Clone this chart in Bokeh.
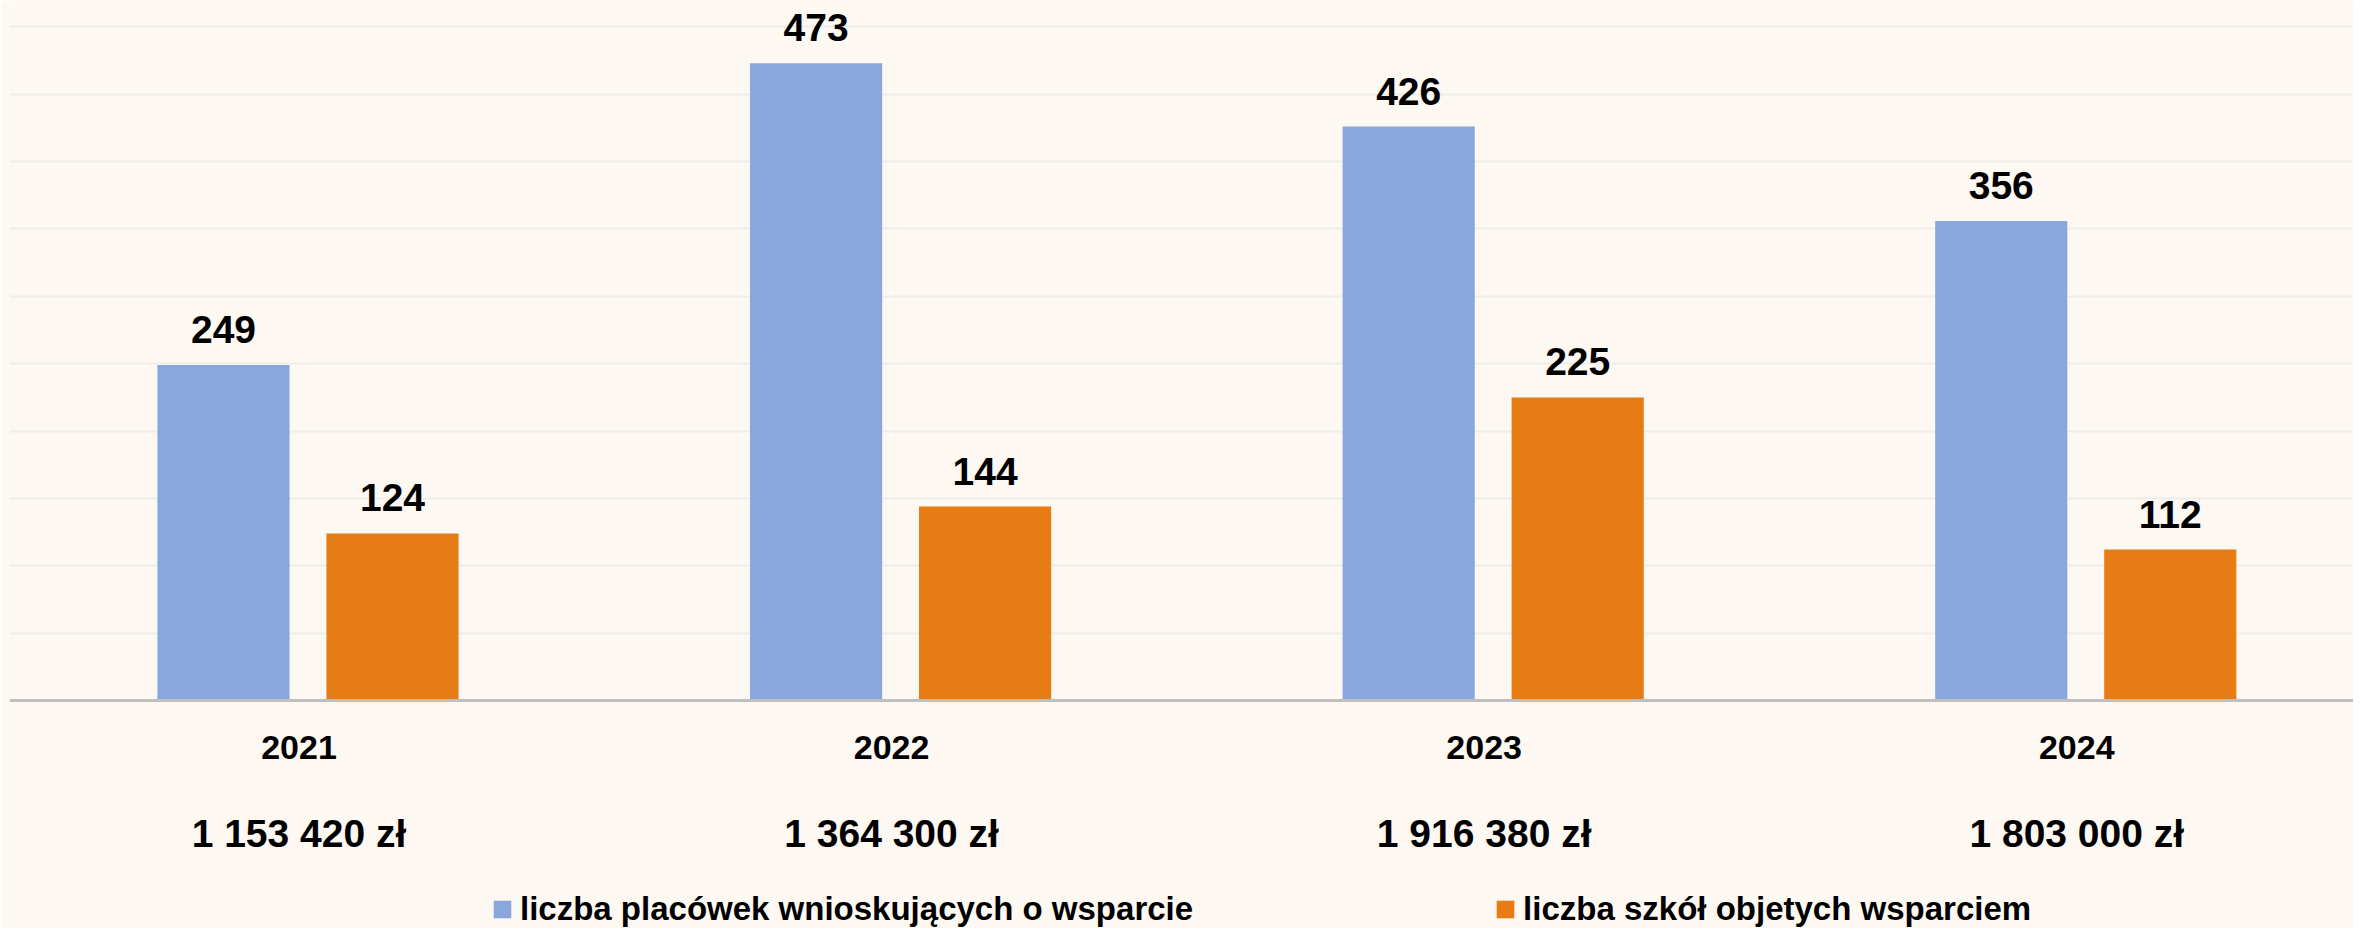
import numpy as np
from bokeh.plotting import figure
from bokeh.models import (Range1d, FixedTicker, ColumnDataSource, LabelSet,
                          Legend, LegendItem, Span, Grid)
from bokeh.core.properties import value
from bokeh.embed import file_html
from bokeh.resources import INLINE

# ---- data ----
years = ["2021", "2022", "2023", "2024"]
applicants = [249, 473, 426, 356]      # liczba placówek wnioskujących o wsparcie
schools = [124, 144, 225, 112]         # liczba szkół objetych wsparciem
amounts = ["1 153 420 zł", "1 364 300 zł", "1 916 380 zł", "1 803 000 zł"]
series_names = ["liczba placówek wnioskujących o wsparcie",
                "liczba szkół objetych wsparciem"]
grid_ticks = [0, 50, 100, 150, 200, 250, 300, 350, 400, 450, 500]

# ---- style ----
BG = "#FDF8F2"
BLUE = "#8AA7DD"
ORANGE = "#E67C13"
FONT = "Liberation Sans"
W, H = 2353, 928

idx = np.arange(len(years))
OFF = 0.1426
BAR_W = 0.223

p = figure(width=W, height=H,
           x_range=Range1d(-0.5037, 3.4518), y_range=Range1d(-169.24, 519.6),
           x_axis_type=None, y_axis_type=None,
           output_backend="svg", toolbar_location=None,
           min_border_left=9, min_border_right=0, min_border_top=0, min_border_bottom=0,
           background_fill_color=BG, border_fill_color=BG, outline_line_color=None)

grid = Grid(dimension=1, ticker=FixedTicker(ticks=grid_ticks),
            grid_line_color="#EFEDEA", grid_line_width=2)
p.add_layout(grid)

src = ColumnDataSource(dict(
    x_a=idx - OFF, x_s=idx + OFF, x_c=idx.astype(float),
    applicants=applicants, schools=schools,
    lab_a=[str(v) for v in applicants], lab_s=[str(v) for v in schools],
    years=years, amounts=amounts,
    y_year=[-34.9] * len(years), y_amt=[-98.7] * len(years),
))

r1 = p.vbar(x="x_a", top="applicants", width=BAR_W, bottom=0, source=src,
            fill_color=BLUE, line_color=None)
r2 = p.vbar(x="x_s", top="schools", width=BAR_W, bottom=0, source=src,
            fill_color=ORANGE, line_color=None)

p.add_layout(Span(location=0, dimension="width", line_color="#BFBFBF", line_width=3))

common = dict(text_font=value(FONT), text_font_style="bold", text_color="#000000",
              text_align="center")
p.add_layout(LabelSet(x="x_a", y="applicants", text="lab_a", source=src,
                      y_offset=22, text_baseline="alphabetic",
                      text_font_size="39px", **common))
p.add_layout(LabelSet(x="x_s", y="schools", text="lab_s", source=src,
                      y_offset=22, text_baseline="alphabetic",
                      text_font_size="39px", **common))
p.add_layout(LabelSet(x="x_c", y="y_year", text="years", source=src,
                      x_offset=-9, text_baseline="middle",
                      text_font_size="34px", **common))
p.add_layout(LabelSet(x="x_c", y="y_amt", text="amounts", source=src,
                      x_offset=-9, text_baseline="middle",
                      text_font_size="39px", **common))

legend = Legend(items=[LegendItem(label=series_names[0], renderers=[r1]),
                       LegendItem(label=series_names[1], renderers=[r2])],
                orientation="horizontal", location=(482, 0),
                glyph_width=22, glyph_height=22, label_standoff=7, spacing=301,
                padding=0, margin=0, border_line_color=None,
                background_fill_alpha=0,
                label_text_font=FONT, label_text_font_style="bold",
                label_text_font_size="33px", label_text_color="#000000")
p.add_layout(legend)

open("out.html", "w").write(file_html(p, INLINE))
